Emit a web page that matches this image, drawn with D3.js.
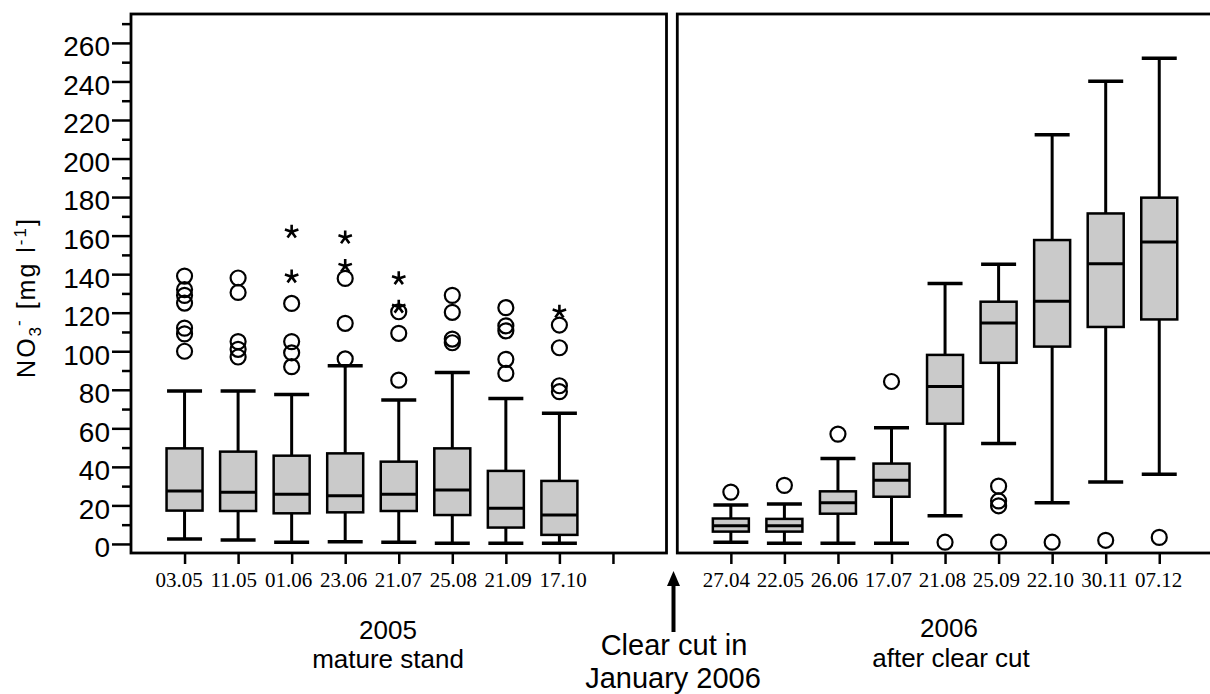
<!DOCTYPE html>
<html>
<head>
<meta charset="utf-8">
<script src="https://cdn.jsdelivr.net/npm/d3@7"></script>
<style>
  body { margin: 0; background: #fff; }
  svg { display: block; }
</style>
</head>
<body>
<svg id="chart" width="1210" height="694"></svg>
<script>
// Nitrate concentration in seepage water, 2005 (mature stand) vs 2006 (after clear cut)

// ---- 2005, mature stand ----
const dates2005   = ["03.05", "11.05", "01.06", "23.06", "21.07", "25.08", "21.09", "17.10"];
const low2005     = [2.6, 2.1, 0.9, 1.2, 0.9, 0.3, 0.3, 0.3];
const q1_2005     = [17.3, 17.1, 15.9, 16.4, 17.1, 15.0, 8.5, 4.7];
const median2005  = [27.5, 26.8, 25.8, 25.0, 25.8, 28.0, 18.5, 15.0];
const q3_2005     = [49.6, 47.9, 45.8, 47.0, 42.7, 49.6, 37.9, 32.7];
const high2005    = [79.4, 79.4, 77.6, 92.5, 74.7, 89.0, 75.5, 67.8];
const outliers2005 = [
  [139, 132, 129, 125, 112, 109, 100],
  [138, 130.5, 105, 101, 97],
  [124.8, 105, 99.2, 92],
  [137.8, 114.5, 96],
  [120.5, 109.3, 85],
  [129, 120.2, 106.3, 104.4],
  [122.6, 113.2, 110.6, 95.8, 88.5],
  [113.6, 101.8, 82.1, 79]
];
const extremes2005 = [
  [], [], [162, 138.7], [159, 144.2], [137.8, 123], [], [], [120.5]
];

// ---- 2006, after clear cut ----
const dates2006   = ["27.04", "22.05", "26.06", "17.07", "21.08", "25.09", "22.10", "30.11", "07.12"];
const low2006     = [0.9, 0.3, 0.3, 0.3, 14.6, 52.1, 21.4, 32.1, 36.2];
const q1_2006     = [6.4, 6.4, 15.7, 24.5, 62.4, 94.0, 102.4, 112.6, 116.5];
const median2006  = [9.5, 9.5, 21.4, 33.1, 81.7, 114.7, 125.9, 145.4, 156.7];
const q3_2006     = [13.2, 13.0, 27.3, 41.7, 98.1, 125.7, 157.7, 171.5, 179.7];
const high2006    = [20.2, 20.7, 44.3, 60.3, 135.2, 145.2, 212.4, 240.1, 252.0];
const outliers2006 = [
  [26.9], [30.4], [57], [84.3], [0.9], [30, 22.3, 19.8, 0.9], [0.9], [1.9], [3.4]
];
const extremes2006 = [[], [], [], [], [], [], [], [], []];

// ---- axis ticks ----
const yMajorTicks = d3.range(0, 261, 20);
const yMinorTicks = d3.range(10, 271, 20);

const svg = d3.select("#chart");
svg.append("rect").attr("width", 1210).attr("height", 694).attr("fill", "#fff");

const y = d3.scaleLinear().domain([-4.7, 275]).range([553, 14]);

// 9 slots per panel; the 2005 panel keeps its last slot empty
const slots = d3.range(9);
const xLeft  = d3.scalePoint().domain(slots).range([131, 666.5]).padding(1);
const xRight = d3.scalePoint().domain(slots).range([677.3, 1212.8]).padding(1);
const labelLeft  = d3.scalePoint().domain(d3.range(dates2005.length)).range([179, 563]);
const labelRight = d3.scalePoint().domain(d3.range(dates2006.length)).range([726.3, 1158.5]);

function rows(dates, lo, q1, med, q3, hi, outl, extr) {
  return dates.map((d, i) => ({
    i, date: d, lo: lo[i], q1: q1[i], med: med[i], q3: q3[i], hi: hi[i],
    outliers: outl[i], extremes: extr[i]
  }));
}
const data2005 = rows(dates2005, low2005, q1_2005, median2005, q3_2005, high2005, outliers2005, extremes2005);
const data2006 = rows(dates2006, low2006, q1_2006, median2006, q3_2006, high2006, outliers2006, extremes2006);

// five-armed asterisk used for extreme values
const asterisk5 = {
  draw(ctx, size) {
    const r = Math.sqrt(size) / 2;
    for (let k = 0; k < 5; k++) {
      const a = -Math.PI / 2 + k * 2 * Math.PI / 5;
      ctx.moveTo(0, 0);
      ctx.lineTo(r * Math.cos(a), r * Math.sin(a));
    }
  }
};
const starPath = d3.symbol().type(asterisk5).size(200)();

const boxW = 36, capW = 35;

function drawPanel(data, x, x0, x1, labelScale) {
  const g = svg.append("g");

  // x ticks below the frame
  const ax = g.append("g")
    .attr("transform", `translate(0,${y.range()[0]})`)
    .call(d3.axisBottom(x).tickSize(11).tickFormat(""));
  ax.select(".domain").remove();
  ax.selectAll(".tick line").attr("stroke", "#000").attr("stroke-width", 2.5);

  const b = g.selectAll("g.box").data(data).join("g").attr("class", "box")
    .attr("transform", d => `translate(${x(d.i)},0)`);

  // whisker stem
  b.append("line")
    .attr("y1", d => y(d.lo)).attr("y2", d => y(d.hi))
    .attr("stroke", "#000").attr("stroke-width", 3);
  // whisker caps
  b.append("line")
    .attr("x1", -capW / 2).attr("x2", capW / 2)
    .attr("y1", d => y(d.hi)).attr("y2", d => y(d.hi))
    .attr("stroke", "#000").attr("stroke-width", 3.5);
  b.append("line")
    .attr("x1", -capW / 2).attr("x2", capW / 2)
    .attr("y1", d => y(d.lo)).attr("y2", d => y(d.lo))
    .attr("stroke", "#000").attr("stroke-width", 3.5);
  // box
  b.append("rect")
    .attr("x", -boxW / 2).attr("width", boxW)
    .attr("y", d => y(d.q3)).attr("height", d => y(d.q1) - y(d.q3))
    .attr("fill", "#cacaca").attr("stroke", "#000").attr("stroke-width", 2.5);
  // median
  b.append("line")
    .attr("x1", -boxW / 2).attr("x2", boxW / 2)
    .attr("y1", d => y(d.med)).attr("y2", d => y(d.med))
    .attr("stroke", "#000").attr("stroke-width", 3);
  // outliers
  b.selectAll("circle").data(d => d.outliers).join("circle")
    .attr("cy", v => y(v)).attr("r", 7.5)
    .attr("fill", "none").attr("stroke", "#000").attr("stroke-width", 2.2);
  // extremes
  b.selectAll("path.star").data(d => d.extremes).join("path").attr("class", "star")
    .attr("d", starPath)
    .attr("transform", v => `translate(0,${y(v)})`)
    .attr("fill", "none").attr("stroke", "#000").attr("stroke-width", 2.6)
    .attr("stroke-linecap", "butt");

  // date labels
  g.selectAll("text.date").data(data).join("text").attr("class", "date")
    .attr("x", d => labelScale(d.i)).attr("y", 587)
    .attr("text-anchor", "middle")
    .attr("font-family", "'Liberation Serif', 'Times New Roman', serif")
    .attr("font-size", 21)
    .text(d => d.date);

  // frame
  g.append("rect")
    .attr("x", x0).attr("y", y.range()[1])
    .attr("width", x1 - x0).attr("height", y.range()[0] - y.range()[1])
    .attr("fill", "none").attr("stroke", "#000").attr("stroke-width", 2.8);
}

drawPanel(data2005, xLeft, 131, 666.5, labelLeft);
drawPanel(data2006, xRight, 677.3, 1212.8, labelRight);

// y axis: labelled major ticks and short minor ticks
const yMajor = svg.append("g").attr("transform", "translate(131,0)")
  .call(d3.axisLeft(y).tickValues(yMajorTicks).tickSize(19).tickPadding(2));
yMajor.select(".domain").remove();
yMajor.selectAll(".tick line").attr("stroke", "#000").attr("stroke-width", 2.5);
yMajor.selectAll(".tick text")
  .attr("font-family", "'Liberation Sans', Arial, sans-serif")
  .attr("font-size", 28).attr("fill", "#000").attr("dy", "0.46em");

const yMinor = svg.append("g").attr("transform", "translate(131,0)")
  .call(d3.axisLeft(y).tickValues(yMinorTicks).tickSize(9).tickFormat(""));
yMinor.select(".domain").remove();
yMinor.selectAll(".tick line").attr("stroke", "#000").attr("stroke-width", 2.5);

// y axis title: NO3- [mg l-1]
const yTitle = svg.append("text")
  .attr("transform", "translate(35,297.5) rotate(-90)")
  .attr("text-anchor", "middle")
  .attr("font-family", "'Liberation Sans', Arial, sans-serif")
  .attr("font-size", 25)
  .attr("letter-spacing", 2);
yTitle.append("tspan").text("NO");
yTitle.append("tspan").attr("font-size", 17).attr("dy", 6).text("3");
yTitle.append("tspan").attr("font-size", 17).attr("dx", -1).attr("dy", -17).text("-");
yTitle.append("tspan").attr("dy", 11).text(" [mg l");
yTitle.append("tspan").attr("font-size", 17).attr("dy", -9).text("-1");
yTitle.append("tspan").attr("dy", 9).text("]");

// group captions
const sans = "'Liberation Sans', Arial, sans-serif";
function caption(txt, cx, base, size) {
  svg.append("text").attr("x", cx).attr("y", base)
    .attr("text-anchor", "middle").attr("font-family", sans)
    .attr("font-size", size).attr("fill", "#000").text(txt);
}
caption("2005", 388, 639, 26);
caption("mature stand", 388, 668, 26);
caption("2006", 949, 637, 26);
caption("after clear cut", 951, 667, 26);
caption("Clear cut in", 674, 655, 29);
caption("January 2006", 673, 688, 29);

// arrow marking the clear cut
svg.append("line")
  .attr("x1", 673.5).attr("x2", 673.5).attr("y1", 632).attr("y2", 583)
  .attr("stroke", "#000").attr("stroke-width", 4);
svg.append("path")
  .attr("d", d3.line()([[667, 586], [673.5, 571], [680, 586]]) + "Z")
  .attr("fill", "#000");
</script>
</body>
</html>
